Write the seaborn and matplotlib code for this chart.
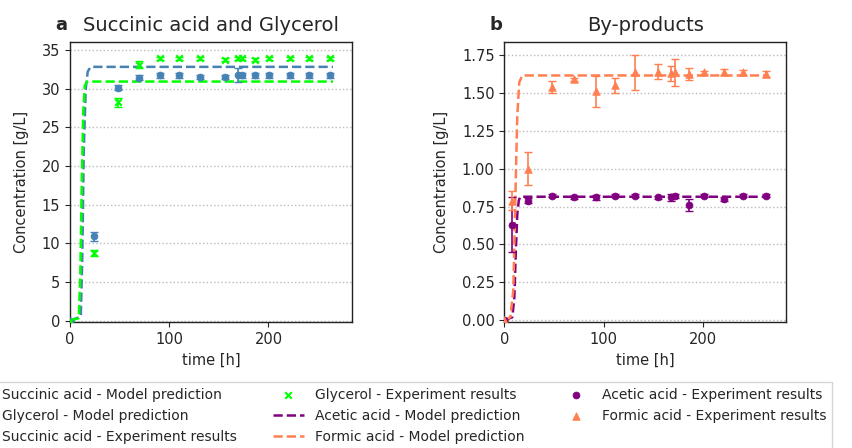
import numpy as np
import pandas as pd
import matplotlib
matplotlib.use('Agg')
import matplotlib.pyplot as plt
import seaborn as sns

# panel a: model curves
succ_model_t = [0, 11, 12.5, 14, 16, 18, 21, 265]
succ_model_y = [0, 0.5, 8, 22, 30, 32.2, 32.8, 32.8]
glyc_model_t = [0, 9, 10.5, 12, 13.5, 15, 17.5, 265]
glyc_model_y = [0, 0.3, 6, 18, 27, 30.4, 30.9, 30.9]

# panel a: experiments
exp_t_a = [0, 24, 48, 70, 91, 110, 131, 156, 169, 173, 186, 201, 222, 241, 262]
succ_exp = [0, 10.9, 30.1, 31.4, 31.7, 31.7, 31.5, 31.5, 31.8, 31.7, 31.7, 31.7, 31.7, 31.7, 31.7]
succ_err = [0.1, 0.6, 0.3, 0.3, 0.3, 0.3, 0.3, 0.3, 0.9, 0.3, 0.3, 0.3, 0.3, 0.3, 0.3]
glyc_exp = [0, 8.7, 28.2, 33.1, 33.9, 33.9, 33.9, 33.7, 33.9, 33.9, 33.7, 33.9, 33.9, 33.9, 33.9]
glyc_err = [0.1, 0.4, 0.6, 0.5, 0.2, 0.2, 0.2, 0.2, 0.2, 0.2, 0.2, 0.2, 0.2, 0.2, 0.2]

# panel b: model curves
acet_model_t = [0, 8, 10, 11.5, 13, 14.5, 16, 265]
acet_model_y = [0, 0.02, 0.15, 0.45, 0.7, 0.79, 0.815, 0.815]
form_model_t = [0, 6, 9, 11, 13, 15, 18, 265]
form_model_y = [0, 0.02, 0.2, 0.8, 1.35, 1.57, 1.615, 1.615]

# panel b: experiments
exp_t_b = [0, 8, 24, 48, 70, 92, 111, 132, 155, 168, 172, 186, 201, 221, 240, 263]
acet_exp = [0, 0.63, 0.79, 0.82, 0.81, 0.81, 0.82, 0.82, 0.81, 0.81, 0.82, 0.76, 0.82, 0.80, 0.82, 0.82]
acet_err = [0.005, 0.18, 0.015, 0.01, 0.01, 0.015, 0.01, 0.01, 0.01, 0.02, 0.015, 0.04, 0.01, 0.015, 0.01, 0.01]
form_exp = [0, 0.79, 1.0, 1.54, 1.59, 1.51, 1.55, 1.635, 1.64, 1.63, 1.635, 1.625, 1.635, 1.635, 1.635, 1.625]
form_err = [0.005, 0.06, 0.11, 0.04, 0.01, 0.1, 0.05, 0.115, 0.05, 0.05, 0.09, 0.04, 0.01, 0.02, 0.015, 0.02]

C_SUCC = 'steelblue'
C_GLYC = 'lime'
C_ACET = 'purple'
C_FORM = 'coral'


def model_line(ax, t, y, color, label):
    df = pd.DataFrame({'t': t, 'y': y})
    sns.lineplot(data=df, x='t', y='y', ax=ax, color=color, linestyle='--',
                 linewidth=1.8, label=label, legend=False)


def exp_points(ax, t, y, err, color, marker, label, size):
    df = pd.DataFrame({'t': t, 'y': y})
    ax.errorbar(t, y, yerr=err, fmt='none', ecolor=color, capsize=3, elinewidth=1.2, zorder=3)
    sns.scatterplot(data=df, x='t', y='y', ax=ax, color=color, marker=marker, s=size,
                    edgecolor=color if marker != 'x' else None, linewidth=1.5 if marker == 'x' else 0.5,
                    label=label, legend=False, zorder=4)


def main():
    sns.set_style('ticks')
    plt.rcParams['font.family'] = ['DejaVu Sans']
    fig = plt.figure(figsize=(8.52, 4.48), dpi=100)
    ax1 = fig.add_axes([0.082, 0.281, 0.331, 0.625])
    ax2 = fig.add_axes([0.592, 0.281, 0.331, 0.625])

    model_line(ax1, succ_model_t, succ_model_y, C_SUCC, 'Succinic acid - Model prediction')
    model_line(ax1, glyc_model_t, glyc_model_y, C_GLYC, 'Glycerol - Model prediction')
    exp_points(ax1, exp_t_a, succ_exp, succ_err, C_SUCC, 'o', 'Succinic acid - Experiment results', 25)
    exp_points(ax1, exp_t_a, glyc_exp, glyc_err, C_GLYC, 'x', 'Glycerol - Experiment results', 22)

    model_line(ax2, acet_model_t, acet_model_y, C_ACET, 'Acetic acid - Model prediction')
    model_line(ax2, form_model_t, form_model_y, C_FORM, 'Formic acid - Model prediction')
    exp_points(ax2, exp_t_b, acet_exp, acet_err, C_ACET, 'o', 'Acetic acid - Experiment results', 25)
    exp_points(ax2, exp_t_b, form_exp, form_err, C_FORM, '^', 'Formic acid - Experiment results', 30)

    ax1.set_xlim(0, 284)
    ax1.set_ylim(-0.2, 36)
    ax1.set_yticks(np.arange(0, 36, 5))
    ax2.set_xlim(0, 284)
    ax2.set_ylim(-0.012, 1.835)
    ax2.set_yticks(np.arange(0, 1.76, 0.25))
    ax2.yaxis.set_major_formatter(matplotlib.ticker.FormatStrFormatter('%.2f'))

    for ax, letter, title in [(ax1, 'a', 'Succinic acid and Glycerol'), (ax2, 'b', 'By-products')]:
        ax.set_xticks([0, 100, 200])
        ax.set_xlabel('time [h]', fontsize=10.5)
        ax.set_ylabel('Concentration [g/L]', fontsize=10.5, labelpad=9)
        ax.tick_params(labelsize=10.5, direction='out', length=3.5)
        ax.yaxis.grid(True, linestyle=':', color='#bbbbbb', linewidth=1)
        ax.set_axisbelow(True)
        for s in ax.spines.values():
            s.set_color('#222222')
            s.set_linewidth(1.0)
        ax.set_title(title, fontsize=14, pad=8)
        ax.text(-0.008, 1.0 + 8 / 280, letter, transform=ax.transAxes, ha='right',
                va='bottom', fontsize=13, fontweight='bold')

    h1, l1 = ax1.get_legend_handles_labels()
    h2, l2 = ax2.get_legend_handles_labels()
    fig.legend(h1 + h2, l1 + l2, loc='upper left', bbox_to_anchor=(-0.053, 0.147), ncol=3,
               fontsize=10, frameon=True, edgecolor='#cccccc', fancybox=False,
               borderaxespad=0, handlelength=2.2, columnspacing=2.6, labelspacing=0.5)

    fig.savefig('out.png', dpi=100)


if __name__ == '__main__':
    main()
